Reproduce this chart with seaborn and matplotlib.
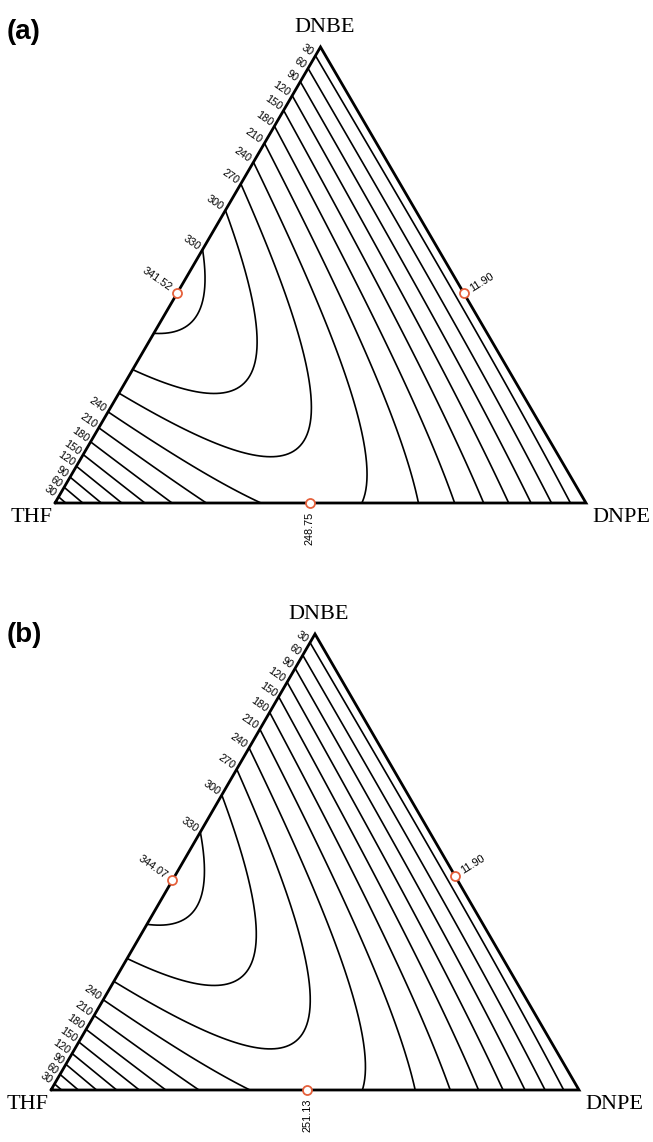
import numpy as np
import matplotlib
matplotlib.use("Agg")
import matplotlib.pyplot as plt
import matplotlib.tri as mtri
import seaborn as sns

# mixture components (vertices)
components = ["THF", "DNBE", "DNPE"]
panel_tags = ["(a)", "(b)"]

# Scheffe cubic model coefficients
# order: b1 b2 b3 b12 b13 b23 d12 d13 d23 b123 (1=THF, 2=DNBE, 3=DNPE)
coef_a = [9.96, 8.97, 3.86, 1320.7, 966.2, 21.9, 198.2, 56.0, -9.1, -240.0]
coef_b = [9.96, 8.97, 3.86, 1330.9, 975.7, 21.9, 198.2, 56.0, -9.1, -240.0]

levels = [30, 60, 90, 120, 150, 180, 210, 240, 270, 300, 330]

# edge optimum markers: position along the edge and printed value
# left edge = DNBE fraction, bottom = DNPE fraction, right = DNPE fraction
marker_pos_a = [0.46, 0.48, 0.54]
marker_pos_b = [0.46, 0.485, 0.53]
marker_lab_a = ["341.52", "248.75", "11.90"]
marker_lab_b = ["344.07", "251.13", "11.90"]

W, H = 653, 1142
# triangle boxes in pixels: left, bottom(y of base), width, height
boxes = [(55, 503, 531, 456), (51, 1090, 528, 456)]

sns.set_style("white")
plt.rcParams["font.family"] = ["Liberation Sans", "DejaVu Sans"]
plt.rcParams["text.color"] = "black"


def model(c, x1, x2, x3):
    return (c[0]*x1 + c[1]*x2 + c[2]*x3 + c[3]*x1*x2 + c[4]*x1*x3 + c[5]*x2*x3
            + c[6]*x1*x2*(x1 - x2) + c[7]*x1*x3*(x1 - x3) + c[8]*x2*x3*(x2 - x3)
            + c[9]*x1*x2*x3)


fig = plt.figure(figsize=(W / 100, H / 100), dpi=100)

# lattice over the simplex
n = 160
ii, jj = np.meshgrid(np.arange(n + 1), np.arange(n + 1))
keep = ii + jj <= n
s_g = ii[keep] / n  # DNBE
t_g = jj[keep] / n  # DNPE
r_g = 1 - s_g - t_g  # THF
gx = t_g + 0.5 * s_g
gy = s_g
tri = mtri.Triangulation(gx, gy)

lab_size = 7.8

for k, (coef, mpos, mlab) in enumerate([(coef_a, marker_pos_a, marker_lab_a),
                                        (coef_b, marker_pos_b, marker_lab_b)]):
    L, B, Wd, Ht = boxes[k]
    ax = fig.add_axes([L / W, 1 - B / H, Wd / W, Ht / H])
    ax.set_xlim(0, 1)
    ax.set_ylim(0, 1)
    ax.axis("off")

    F = model(coef, r_g, s_g, t_g)
    ax.tricontour(tri, F, levels=levels, colors="black", linewidths=1.2)
    ax.plot([0, 1, 0.5, 0], [0, 0, 1, 0], color="black", lw=2.0,
            clip_on=False, solid_joinstyle="miter")

    # contour labels on the THF-DNBE edge
    ss = np.linspace(0, 1, 4001)
    fl = model(coef, 1 - ss, ss, 0 * ss)
    fb = model(coef, 1 - ss, 0 * ss, ss)
    s_peak = ss[fl.argmax()]
    for lv in levels:
        d = fl - lv
        idx = np.where(np.sign(d[:-1]) != np.sign(d[1:]))[0]
        for i in idx:
            sc = ss[i] + (ss[i + 1] - ss[i]) * (-d[i]) / (d[i + 1] - d[i])
            if sc < s_peak and lv > fb.max():
                continue
            ax.annotate(str(lv), xy=(0.5 * sc, sc), xytext=(-2.2, 1.4),
                        textcoords="offset points", rotation=-35,
                        rotation_mode="anchor", ha="right", va="center",
                        fontsize=lab_size, annotation_clip=False)

    # edge optimum markers
    p_left, p_bot, p_right = mpos
    mx = [0.5 * p_left, p_bot, 0.5 + 0.5 * p_right]
    my = [p_left, 0.0, 1 - p_right]
    sns.scatterplot(x=mx, y=my, ax=ax, marker="o", s=42, color="white",
                    edgecolor="#e5603b", linewidth=1.3, clip_on=False,
                    zorder=5, legend=False)
    ax.annotate(mlab[0], xy=(mx[0], my[0]), xytext=(-4.5, 3),
                textcoords="offset points", rotation=-35, rotation_mode="anchor",
                ha="right", va="center", fontsize=lab_size, annotation_clip=False)
    ax.annotate(mlab[1], xy=(mx[1], my[1]), xytext=(0, -6),
                textcoords="offset points", rotation=90, rotation_mode="anchor",
                ha="right", va="center", fontsize=lab_size, annotation_clip=False)
    ax.annotate(mlab[2], xy=(mx[2], my[2]), xytext=(5, 3),
                textcoords="offset points", rotation=32, rotation_mode="anchor",
                ha="left", va="center", fontsize=lab_size, annotation_clip=False)

    # vertex names
    serif = ["Liberation Serif", "DejaVu Serif"]
    ax.text(0.5 + 4 / Wd, 1 + 15 / Ht, components[1], ha="center", va="baseline",
            fontsize=16, family=serif)
    ax.text(-2 / Wd, -19 / Ht, components[0], ha="right", va="baseline",
            fontsize=16, family=serif)
    ax.text(1 + 6 / Wd, -19 / Ht, components[2],
            ha="left", va="baseline", fontsize=16, family=serif)

    top_px = 19 if k == 0 else 622
    fig.text(7 / W, 1 - top_px / H, panel_tags[k], ha="left", va="top",
             fontsize=20, fontweight="bold")

fig.savefig("out.png", dpi=100)
